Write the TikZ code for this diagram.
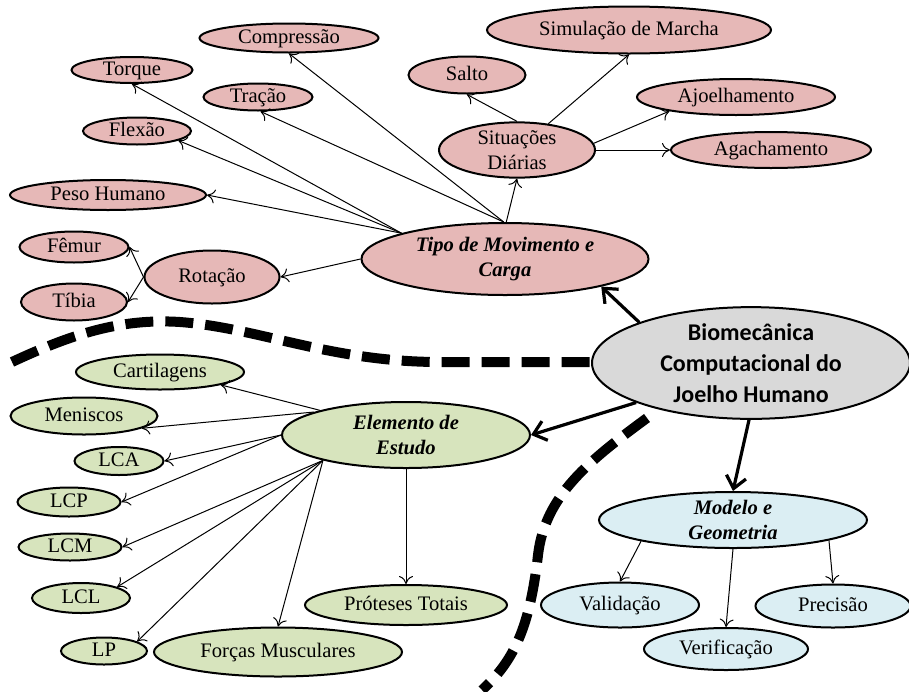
\documentclass[tikz,border=0pt]{standalone}
\usepackage{fontspec}
\setmainfont{Liberation Serif}
\newfontfamily\calibrifont{Carlito}
\usetikzlibrary{arrows.meta}
\usetikzlibrary{shapes.geometric}
\definecolor{pinkfill}{HTML}{E6B8B7}
\definecolor{greenfill}{HTML}{D7E4BD}
\definecolor{bluefill}{HTML}{DBEEF3}
\definecolor{grayfill}{HTML}{D9D9D9}
\tikzset{
    bubble/.style={ellipse, draw=black, line width=1pt, inner sep=0pt, align=center,
        text height=1.5ex, text depth=0.25ex, font=\fontsize{10.3}{12.5}\selectfont},
    twolines/.style={text height=, text depth=},
    bubblesize/.style 2 args={minimum width=#1*0.5pt, minimum height=#2*0.5pt},
    pinkbubble/.style={bubble, fill=pinkfill},
    greenbubble/.style={bubble, fill=greenfill},
    bluebubble/.style={bubble, fill=bluefill},
    thinarrow/.style={-{To[length=4pt,width=7pt]}, line width=0.5pt},
    thickarrow/.style={-{Straight Barb[length=6pt,width=10pt]}, line width=1.6pt},
    divider/.style={line width=5pt, dash pattern=on 14pt off 6pt}
}

\begin{document}
\begin{tikzpicture}[x=0.5pt, y=-0.5pt]
    \useasboundingbox (0,0) rectangle (909,691);

    % dividing lines
    \draw [divider] (12,362) .. controls (70,335) and (120,318) .. (180,322)
        .. controls (260,328) and (330,362) .. (440,362) -- (590,362);
    \draw [divider] (647,418) .. controls (590,460) and (545,495) .. (538,555)
        .. controls (530,625) and (515,660) .. (482,690);

    % centre
    \node [ellipse, draw=black, line width=1pt, fill=grayfill, inner sep=0pt, bubblesize={318}{108},
        align=center, font=\calibrifont\bfseries\fontsize{12}{15.5}\selectfont] (bio) at (751,363)
        {Biomecânica\\Computacional do\\Joelho Humano};

    % tipo de movimento e carga
    \node [pinkbubble, twolines, bubblesize={287}{72}] (tipo) at (505,259) {\textbf{\textit{Tipo de Movimento e}}\\\textbf{\textit{Carga}}};
    \node [pinkbubble, bubblesize={179}{29}] (compr) at (289,38) {Compressão};
    \node [pinkbubble, bubblesize={121}{26}] (torque) at (132,70) {Torque};
    \node [pinkbubble, bubblesize={109}{27}] (tracao) at (258,97) {Tração};
    \node [pinkbubble, bubblesize={108}{27}] (flexao) at (137,131) {Flexão};
    \node [pinkbubble, bubblesize={196}{30}] (peso) at (108,195) {Peso Humano};
    \node [pinkbubble, bubblesize={135}{53}] (rot) at (212,277) {Rotação};
    \node [pinkbubble, bubblesize={109}{31}] (femur) at (74,247) {Fêmur};
    \node [pinkbubble, bubblesize={106}{37}] (tibia) at (74,302) {Tíbia};
    \node [pinkbubble, twolines, bubblesize={156}{55}] (sit) at (517,150) {Situações\\Diárias};
    \node [pinkbubble, bubblesize={117}{37}] (salto) at (467,75) {Salto};
    \node [pinkbubble, bubblesize={284}{47}] (marcha) at (629,30) {Simulação de Marcha};
    \node [pinkbubble, bubblesize={198}{36}] (ajoelha) at (736,97) {Ajoelhamento};
    \node [pinkbubble, bubblesize={200}{36}] (agacha) at (771,150) {Agachamento};

    % elemento de estudo
    \node [greenbubble, twolines, bubblesize={248}{66}] (elem) at (406,435) {\textbf{\textit{Elemento de}}\\\textbf{\textit{Estudo}}};
    \node [greenbubble, bubblesize={168}{35}] (cart) at (160,372) {Cartilagens};
    \node [greenbubble, bubblesize={147}{37}] (menisco) at (84,416) {Meniscos};
    \node [greenbubble, bubblesize={89}{28}] (lca) at (119,461) {LCA};
    \node [greenbubble, bubblesize={103}{29}] (lcp) at (69,502) {LCP};
    \node [greenbubble, bubblesize={103}{27}] (lcm) at (70,547) {LCM};
    \node [greenbubble, bubblesize={98}{30}] (lcl) at (81,598) {LCL};
    \node [greenbubble, bubblesize={86}{27}] (lp) at (104,651) {LP};
    \node [greenbubble, bubblesize={248}{49}] (forcas) at (278,652) {Forças Musculares};
    \node [greenbubble, bubblesize={202}{40}] (protese) at (406,605) {Próteses Totais};

    % modelo e geometria
    \node [bluebubble, twolines, bubblesize={268}{56}] (modelo) at (733,520) {\textbf{\textit{Modelo e}}\\\textbf{\textit{Geometria}}};
    \node [bluebubble, bubblesize={158}{45}] (valid) at (620,605) {Validação};
    \node [bluebubble, bubblesize={164}{42}] (verif) at (726,649) {Verificação};
    \node [bluebubble, bubblesize={155}{43}] (precis) at (833,606) {Precisão};

    % main branches
    \draw [thickarrow] (bio.160) -- (tipo.-16);
    \draw [thickarrow] (bio.199) -- (elem.east);
    \draw [thickarrow] (bio.268) -- (modelo.north);

    % tipo de movimento e carga
    \draw [thinarrow] (tipo.92) -- (compr.south);
    \draw [thinarrow] (tipo.92) -- (tracao.-80);
    \draw [thinarrow] (tipo.166) -- (torque.south);
    \draw [thinarrow] (tipo.166) -- (flexao.-13);
    \draw [thinarrow] (tipo.166) -- (peso.east);
    \draw [thinarrow] (tipo.west) -- (rot.east);
    \draw [thinarrow] (rot.west) -- (femur.east);
    \draw [thinarrow] (rot.west) -- (tibia.east);
    \draw [thinarrow] (tipo.88) -- (sit.south);
    \draw [thinarrow] (sit.north) -- (salto.south);
    \draw [thinarrow] (sit.40) -- (marcha.south);
    \draw [thinarrow] (sit.5) -- (ajoelha.192);
    \draw [thinarrow] (sit.east) -- (agacha.west);

    % elemento de estudo
    \draw [thinarrow] (elem.164) -- (cart.-12);
    \draw [thinarrow] (elem.166) -- (menisco.-12);
    \draw [thinarrow] (elem.west) -- (lca.east);
    \draw [thinarrow] (elem.west) -- (lcp.east);
    \draw [thinarrow] (elem.197) -- (lcm.east);
    \draw [thinarrow] (elem.197) -- (lcl.17);
    \draw [thinarrow] (elem.197) -- (lp.16);
    \draw [thinarrow] (elem.197) -- (forcas.north);
    \draw [thinarrow] (elem.south) -- (protese.north);

    % modelo e geometria
    \draw [thinarrow] (modelo.193) -- (valid.north);
    \draw [thinarrow] (modelo.south) -- (verif.north);
    \draw [thinarrow] (modelo.-12) -- (precis.north);
\end{tikzpicture}
\end{document}
